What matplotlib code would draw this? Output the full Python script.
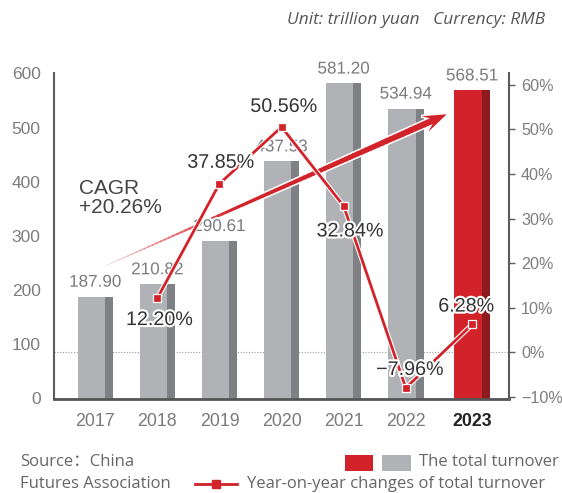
import numpy as np
import matplotlib
matplotlib.use("Agg")
import matplotlib.pyplot as plt
from matplotlib.patches import Polygon, Rectangle
from matplotlib.lines import Line2D
from matplotlib.transforms import IdentityTransform
import matplotlib.patheffects as pe

# ---------------- data ----------------
years = ["2017", "2018", "2019", "2020", "2021", "2022", "2023"]
turnover = [187.90, 210.82, 290.61, 437.53, 581.20, 534.94, 568.51]
yoy_years = ["2018", "2019", "2020", "2021", "2022", "2023"]
yoy = [12.20, 37.85, 50.56, 32.84, -7.96, 6.28]
left_ticks = [0, 100, 200, 300, 400, 500, 600]
right_ticks = [-10, 0, 10, 20, 30, 40, 50, 60]
cagr_text = "CAGR\n+20.26%"
unit_text = "Unit: trillion yuan   Currency: RMB"
source_lines = ["Source\uff1aChina", "Futures Association"]
legend_bar = "The total turnover"
legend_line = "Year-on-year changes of total turnover"

# ---------------- style ----------------
W, H = 562, 493
NUM_FONT = "Liberation Sans"
TXT_FONT = ["Open Sans", "Noto Sans CJK SC", "DejaVu Sans"]
RED = "#d2232a"
DRED = "#8e1a1f"
GRAY = "#b1b2b6"
DGRAY = "#7f8084"
AXC = "#5c5c5c"

fig = plt.figure(figsize=(W / 100, H / 100), dpi=100)
fig.patch.set_facecolor("white")

def fx(x):
    return x / W

def fy(y):
    return 1 - y / H

ax = fig.add_axes([fx(54.3), fy(398.5), fx(509.3) - fx(54.3), fy(73.3) - fy(398.5)])
ax2 = ax.twinx()
ax.set_zorder(1)
ax2.set_zorder(2)
ax2.patch.set_visible(False)

n = len(years)
xpos = np.arange(n, dtype=float)
xpos[-1] += 0.07  # highlighted year slightly separated
xmap = dict(zip(years, xpos))

ax.set_xlim(-0.66, 6.667)
ax.set_ylim(0, 600)
ax2.set_ylim(-10.33, 62.6)

# bars: front face + darker side strip
front_w, side_w = 0.443, 0.129
half = (front_w + side_w) / 2
for i, (x, v) in enumerate(zip(xpos, turnover)):
    hi = i == n - 1
    ax.bar(x - half, v, width=front_w, align="edge",
           color=RED if hi else GRAY, zorder=2, linewidth=0)
    ax.bar(x - half + front_w, v, width=side_w, align="edge",
           color=DRED if hi else DGRAY, zorder=2, linewidth=0)

# dotted 0% reference line (drawn behind bars)
lo, hi_ = ax2.get_ylim()
ax.axhline(600 * (0 - lo) / (hi_ - lo), color="#9a9a9a", lw=0.8,
           ls=(0, (1, 1.5)), zorder=1)

# value labels
halo = [pe.withStroke(linewidth=3, foreground="white")]
for x, v in zip(xpos, turnover):
    ax.annotate(f"{v:.2f}", (x, v), xytext=(0, 10.4), textcoords="offset points",
                ha="center", va="center", fontsize=12.3, color="#7b7c80",
                family=NUM_FONT, zorder=6, path_effects=halo)

# axes styling
for s in ["top", "right"]:
    ax.spines[s].set_visible(False)
ax.spines["left"].set_color(AXC)
ax.spines["left"].set_linewidth(1.5)
ax.spines["bottom"].set_color("#555555")
ax.spines["bottom"].set_linewidth(2.0)
for s in ["top", "left", "bottom"]:
    ax2.spines[s].set_visible(False)
ax2.spines["right"].set_color(AXC)
ax2.spines["right"].set_linewidth(1.5)

ax.set_yticks(left_ticks)
ax.set_yticklabels([str(t) for t in left_ticks])
ax.tick_params(axis="y", length=0, pad=9.8, labelsize=12.5, labelcolor="#7d7d7d")
ax.set_xticks(xpos)
ax.set_xticklabels(years)
ax.tick_params(axis="x", length=0, pad=10.5, labelsize=12.8, labelcolor="#7a7a7a")
for lab in ax.get_yticklabels() + ax.get_xticklabels():
    lab.set_family(NUM_FONT)
last = ax.get_xticklabels()[-1]
last.set_fontweight("bold")
last.set_color("#222222")

ax2.set_yticks(right_ticks)
ax2.set_yticklabels([f"{t}%".replace("-", "\u2212") for t in right_ticks])
ax2.tick_params(axis="y", length=4.5, width=1.0, color=AXC, pad=4.0,
                labelsize=11.6, labelcolor="#7d7d7d")
for lab in ax2.get_yticklabels():
    lab.set_family(NUM_FONT)

# YoY line: white casing, red line, small red square markers with thin white edge
lx = [xmap[y] for y in yoy_years]
ax2.plot(lx, yoy, color="white", lw=3.6, zorder=3.9, solid_capstyle="round")
ax2.plot(lx, yoy, color=RED, lw=2.0, marker="s", ms=6.0, mfc=RED, mec="white",
         mew=0.9, zorder=4)

offsets = [(1.5, -15.5), (1.0, 15.4), (1.6, 14.8), (4.7, -18.0), (2.9, 13.3), (-4.3, 13.2)]
for x, v, off in zip(lx, yoy, offsets):
    ax2.annotate(f"{v:.2f}%".replace("-", "\u2212"), (x, v), xytext=off,
                 textcoords="offset points", ha="center", va="center",
                 fontsize=14.2, color="#333333", family=NUM_FONT, zorder=6,
                 path_effects=[pe.withStroke(linewidth=3, foreground="white")])

# CAGR annotation text
ax.text(0.0543, 0.6165, cagr_text, transform=ax.transAxes, ha="left", va="center",
        fontsize=15, color="#444444", family=NUM_FONT, linespacing=1.05, zorder=6)

# CAGR arrow (tapered, fading in), drawn in display pixels
fig.canvas.draw()
p0 = ax.transData.transform((0.124, 242.6))
p1 = ax.transData.transform((5.66, 524.4))
d = p1 - p0
Ltot = np.hypot(*d)
u = d / Ltot
nrm = np.array([-u[1], u[0]])
head_len, head_hw, join_back, shaft_end_hw = 24.0, 8.5, 17.0, 3.2
shaft_len = Ltot - join_back
outline = [p0 + nrm * 0.6, p0 + u * shaft_len + nrm * shaft_end_hw,
           p1 - u * head_len + nrm * head_hw, p1,
           p1 - u * head_len - nrm * head_hw,
           p0 + u * shaft_len - nrm * shaft_end_hw, p0 - nrm * 0.6]
ax.add_patch(Polygon(outline, closed=True, transform=IdentityTransform(),
                     facecolor="white", edgecolor="white", lw=2.2, zorder=3,
                     clip_on=False))
N = 80
for k in range(N):
    t0, t1 = k / N, (k + 1) / N
    w0 = 0.4 + (shaft_end_hw - 0.4) * t0
    w1 = 0.4 + (shaft_end_hw - 0.4) * t1
    a0 = p0 + u * shaft_len * t0
    a1 = p0 + u * shaft_len * (t1 + 0.002)
    alpha = min(1.0, 0.12 + 0.88 * (t0 / 0.4))
    quad = [a0 + nrm * w0, a1 + nrm * w1, a1 - nrm * w1, a0 - nrm * w0]
    ax.add_patch(Polygon(quad, closed=True, transform=IdentityTransform(),
                         facecolor=RED, edgecolor="none", lw=0, alpha=alpha,
                         zorder=3.1, clip_on=False))
head = [p0 + u * shaft_len + nrm * shaft_end_hw,
        p1 - u * head_len + nrm * head_hw, p1,
        p1 - u * head_len - nrm * head_hw,
        p0 + u * shaft_len - nrm * shaft_end_hw]
ax.add_patch(Polygon(head, closed=True, transform=IdentityTransform(),
                     facecolor=RED, edgecolor="none", zorder=3.2, clip_on=False))

# header text
fig.text(fx(545), fy(20.5), unit_text, ha="right", va="center", fontsize=12.4,
         style="italic", color="#555555", family=TXT_FONT)

# source
fig.text(fx(20), fy(461.7), source_lines[0], ha="left", va="center", fontsize=12,
         color="#666666", family=TXT_FONT)
fig.text(fx(20), fy(484.3), source_lines[1], ha="left", va="center", fontsize=12,
         color="#666666", family=TXT_FONT)

# legend (manual)
fig.add_artist(Rectangle((fx(345), fy(470.7)), fx(28.3), fy(455) - fy(470.7),
                         transform=fig.transFigure, facecolor=RED, edgecolor="none"))
fig.add_artist(Rectangle((fx(381.7), fy(470.7)), fx(29), fy(455) - fy(470.7),
                         transform=fig.transFigure, facecolor=GRAY, edgecolor="none"))
fig.text(fx(419.3), fy(462.5), legend_bar, ha="left", va="center", fontsize=12,
         color="#666666", family=TXT_FONT)
fig.add_artist(Line2D([fx(195), fx(236.7)], [fy(484.3), fy(484.3)],
                      transform=fig.transFigure, color=RED, lw=2.0))
fig.add_artist(Line2D([fx(216)], [fy(484.3)], transform=fig.transFigure,
                      color=RED, marker="s", ms=6, mec=RED))
fig.text(fx(246.7), fy(484.3), legend_line, ha="left", va="center", fontsize=12,
         color="#666666", family=TXT_FONT)

fig.savefig("out.png", dpi=100, facecolor="white")
